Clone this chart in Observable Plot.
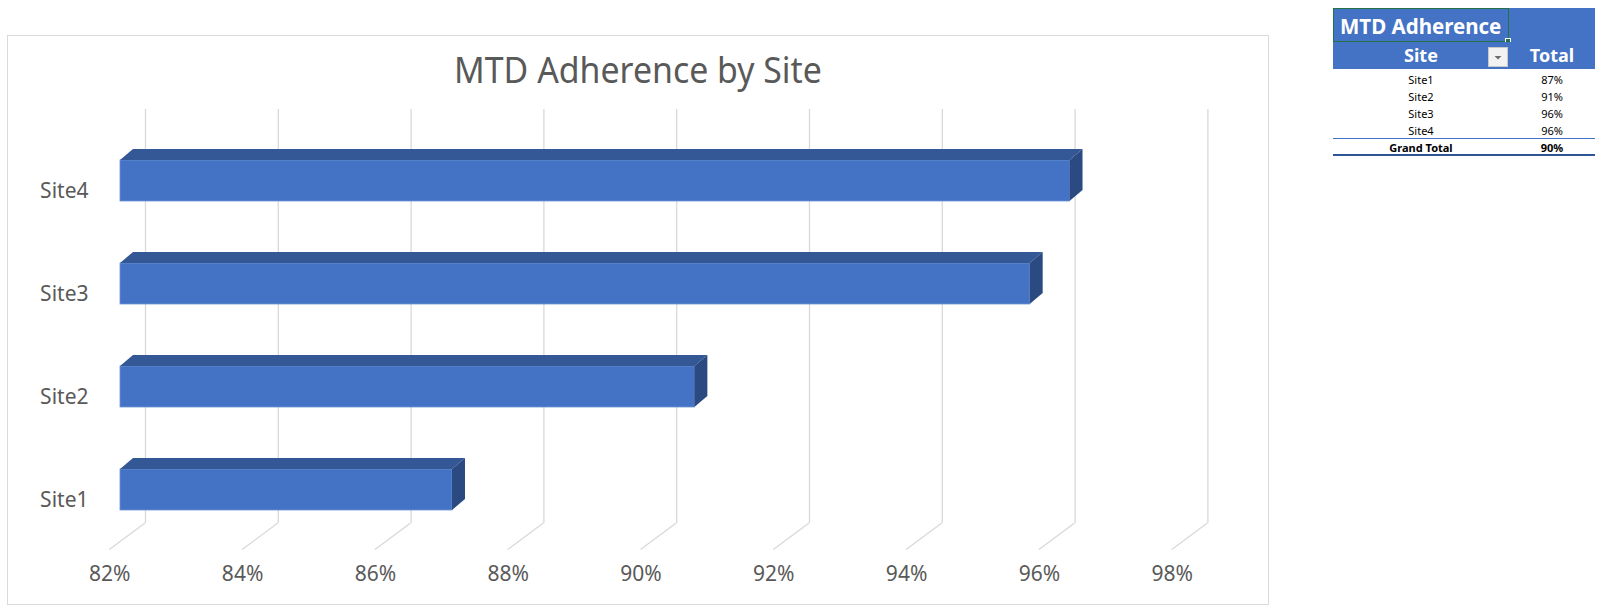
<!DOCTYPE html>
<html>
<head>
<meta charset="utf-8">
<script src="https://cdn.jsdelivr.net/npm/d3@7"></script>
<script src="https://cdn.jsdelivr.net/npm/@observablehq/plot@0.6"></script>
<style>
  html, body { margin: 0; padding: 0; background: #fff; }
  body { font-family: "Noto Sans", sans-serif; }
  #page { position: relative; width: 1600px; height: 612px; overflow: hidden; background: #fff; }
  #frame { position: absolute; left: 7px; top: 35px; width: 1262px; height: 570px; box-sizing: border-box; border: 1px solid #d9d9d9; }
  #title { position: absolute; left: 7px; top: 50px; width: 1262px; text-align: center; font-size: 37px; line-height: 37px; color: #595959; white-space: nowrap; }
  #title span { display: inline-block; transform: scaleX(0.915); transform-origin: center; }
  #chart { position: absolute; left: 0; top: 0; }
  .pv { position: absolute; box-sizing: border-box; }
  .hdr { background: #4472C4; color: #fff; font-weight: bold; }
</style>
</head>
<body>
<div id="page">
  <div id="frame"></div>
  <div id="title"><span>MTD Adherence by Site</span></div>
  <div id="chart"></div>
  <div id="pivot"></div>
</div>
<script>
// ---- data ----
const sites = ["Site4", "Site3", "Site2", "Site1"];
const adherence = [96.3, 95.7, 90.65, 87.0];
const xTicks = [82, 84, 86, 88, 90, 92, 94, 96, 98];
const tableTitle = "MTD Adherence";
const tableHeaders = ["Site", "Total"];
const tableSites = ["Site1", "Site2", "Site3", "Site4"];
const tableTotals = ["87%", "91%", "96%", "96%"];
const grandLabel = "Grand Total";
const grandTotal = "90%";

const data = sites.map((s, i) => ({site: s, value: adherence[i]}));

// ---- 3D look (pixel offsets) ----
const FACE_DX = -25;             // bar front face offset from back wall
const BAR_DX = 13, BAR_DY = -11; // bar depth
const FLOOR_DX = -35.7, FLOOR_DY = 26.6;
const GRID = "#d9d9d9";

function floorLines(index, scales, values, dim) {
  const g = d3.create("svg:g");
  const y0 = dim.height - dim.marginBottom;
  for (const i of index) {
    const x = values.x[i];
    g.append("line").attr("x1", x).attr("y1", y0).attr("x2", x + FLOOR_DX).attr("y2", y0 + FLOOR_DY)
      .attr("stroke", GRID).attr("stroke-width", 1.3);
  }
  return g.node();
}

function bars3d(index, scales, values, dim, ctx, next) {
  const inner = next(index, scales, values, dim, ctx);
  const bw = typeof scales.y.bandwidth === "function" ? scales.y.bandwidth() : scales.scales.y.bandwidth;
  const g = d3.create("svg:g").attr("transform", `translate(${FACE_DX},0)`);
  g.node().appendChild(inner);
  for (const i of index) {
    const L = values.x1[i], R = values.x2[i], T = values.y[i], B = T + bw;
    g.append("polygon")
      .attr("points", [[L, T], [L + BAR_DX, T + BAR_DY], [R + BAR_DX, T + BAR_DY], [R, T]].join(" "))
      .attr("fill", "#345796");
    g.append("polygon")
      .attr("points", [[R, T], [R + BAR_DX, T + BAR_DY], [R + BAR_DX, B + BAR_DY], [R, B]].join(" "))
      .attr("fill", "#2A4A81");
  }
  return g.node();
}

const chart = Plot.plot({
  width: 1280,
  height: 612,
  marginTop: 109,
  marginBottom: 89,
  marginLeft: 0,
  marginRight: 0,
  style: {background: "transparent", overflow: "visible", fontFamily: "'Noto Sans', sans-serif"},
  x: {domain: [82, 98], range: [145, 1207.4], axis: null},
  y: {domain: sites, range: [97, 572.3], padding: 0.6, axis: null},
  marks: [
    Plot.ruleX(xTicks, {x: d => d, stroke: GRID, strokeWidth: 1.3}),
    Plot.ruleX(xTicks, {x: d => d, render: floorLines}),
    Plot.barX(data, {
      x1: () => 82, x2: "value", y: "site",
      fill: "#4472C4", stroke: "#6F93D4", strokeWidth: 0.8,
      render: bars3d
    }),
    Plot.text(xTicks, {
      x: d => d, frameAnchor: "bottom", dx: FLOOR_DX, dy: 57,
      text: d => d + "%", fontSize: 21, fill: "#595959"
    }),
    Plot.text(sites, {
      y: d => d, x: () => 82, dx: -57, dy: 10.5, textAnchor: "end",
      text: d => d, fontSize: 21, fill: "#595959"
    })
  ]
});
document.getElementById("chart").appendChild(chart);

// ---- pivot table ----
const pv = document.getElementById("pivot");
function box(style, html, cls) {
  const d = document.createElement("div");
  d.className = "pv " + (cls || "");
  Object.assign(d.style, style);
  if (html != null) d.innerHTML = html;
  pv.appendChild(d);
  return d;
}
const L0 = 1333, C1 = 176, C2 = 86;
box({left: L0 + "px", top: "8px", width: (C1 + C2) + "px", height: "34px"}, null, "hdr");
box({left: L0 + "px", top: "8px", width: C1 + "px", height: "34px", border: "1.5px solid #217346"});
box({left: (L0 + C1 - 4) + "px", top: "38px", width: "6px", height: "6px", background: "#217346", border: "1px solid #fff"});
box({left: "1340px", top: "16px", fontSize: "20.5px", lineHeight: "20px", color: "#fff", fontWeight: "bold", whiteSpace: "nowrap"}, tableTitle);
box({left: L0 + "px", top: "42px", width: (C1 + C2) + "px", height: "27px"}, null, "hdr");
box({left: L0 + "px", top: "42px", width: C1 + "px", height: "27px", fontSize: "18px", lineHeight: "27px", color: "#fff", fontWeight: "bold", textAlign: "center"}, tableHeaders[0]);
box({left: (L0 + C1) + "px", top: "42px", width: C2 + "px", height: "27px", fontSize: "18px", lineHeight: "27px", color: "#fff", fontWeight: "bold", textAlign: "center"}, tableHeaders[1]);
box({left: "1488px", top: "47px", width: "20px", height: "20px", background: "#f2f2f2", border: "1px solid #c8c8c8"},
  '<svg width="18" height="18" style="display:block"><polygon points="5.5,8 12.5,8 9,11.5" fill="#6b6b6b"/></svg>');
const rowTops = [71, 88, 105, 122];
tableSites.forEach((s, i) => {
  box({left: L0 + "px", top: rowTops[i] + "px", width: C1 + "px", height: "17px", fontSize: "11px", lineHeight: "17px", color: "#000", textAlign: "center"}, s);
  box({left: (L0 + C1) + "px", top: rowTops[i] + "px", width: C2 + "px", height: "17px", fontSize: "11px", lineHeight: "17px", color: "#000", textAlign: "center"}, tableTotals[i]);
});
box({left: L0 + "px", top: "138px", width: (C1 + C2) + "px", height: "1px", background: "#4472C4"});
box({left: L0 + "px", top: "139px", width: C1 + "px", height: "17px", fontSize: "11px", lineHeight: "17px", color: "#000", fontWeight: "bold", textAlign: "center"}, grandLabel);
box({left: (L0 + C1) + "px", top: "139px", width: C2 + "px", height: "17px", fontSize: "11px", lineHeight: "17px", color: "#000", fontWeight: "bold", textAlign: "center"}, grandTotal);
box({left: L0 + "px", top: "154px", width: (C1 + C2) + "px", height: "2px", background: "#2F5597"});
</script>
</body>
</html>
